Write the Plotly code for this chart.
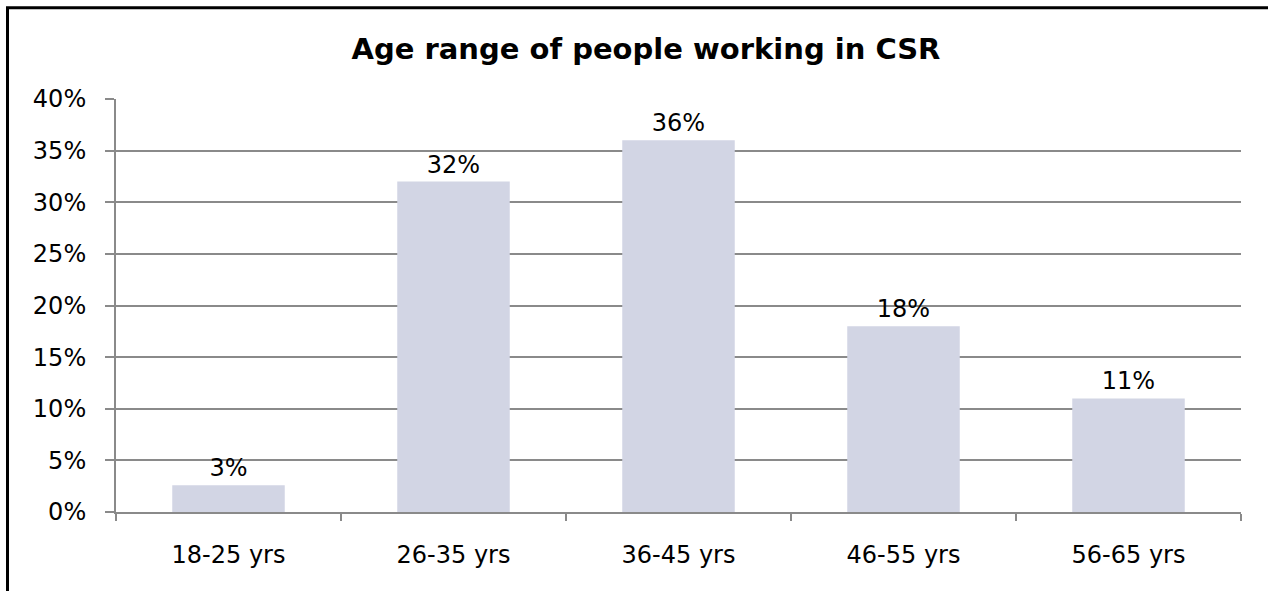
import plotly.graph_objects as go

# Survey data: share of CSR practitioners by age band
age_bands = ["18-25 yrs", "26-35 yrs", "36-45 yrs", "46-55 yrs", "56-65 yrs"]
shares = [0.026, 0.32, 0.36, 0.18, 0.11]
y_ticks = [0, 0.05, 0.10, 0.15, 0.20, 0.25, 0.30, 0.35, 0.40]

W, H = 1268, 591
ML, MR, MT, MB = 116, 27, 99, 79
plot_w = W - ML - MR
plot_h = H - MT - MB

GRID = "#8a8a8a"
BAR = "#d2d5e4"
FONT = "DejaVu Sans"
FS = 24

fig = go.Figure(
    go.Bar(
        x=age_bands,
        y=shares,
        marker=dict(color=BAR, line=dict(width=0)),
        text=shares,
        texttemplate="%{y:.0%}",
        textposition="outside",
        textfont=dict(family=FONT, size=FS, color="#000000"),
        cliponaxis=False,
        hoverinfo="skip",
    )
)

# chart frame: px -> paper helpers
def px_x(px):
    return (px - ML) / plot_w

def px_y(py):
    return (H - MB - py) / plot_h

fig.add_shape(
    type="rect",
    xref="paper", yref="paper",
    x0=px_x(7.5), x1=px_x(W + 20),
    y0=px_y(H + 20), y1=px_y(7.8),
    line=dict(color="#000000", width=3),
    fillcolor="rgba(0,0,0,0)",
    layer="above",
)

fig.update_layout(
    width=W,
    height=H,
    margin=dict(l=ML, r=MR, t=MT, b=MB, pad=0),
    paper_bgcolor="#ffffff",
    plot_bgcolor="#ffffff",
    bargap=0.5,
    showlegend=False,
    title=dict(
        text="<b>Age range of people working in CSR</b>",
        x=646 / W,
        xanchor="center",
        y=1 - 49 / H,
        yanchor="middle",
        font=dict(family=FONT, size=29, color="#000000"),
    ),
    font=dict(family=FONT, size=FS, color="#000000"),
)

fig.update_xaxes(
    type="category",
    range=[-0.5, len(age_bands) - 0.5],
    showline=True,
    linecolor=GRID,
    linewidth=2,
    ticks="outside",
    tickson="boundaries",
    ticklen=7,
    tickwidth=2,
    tickcolor=GRID,
    showgrid=False,
    tickfont=dict(family=FONT, size=FS, color="#000000"),
    ticklabelstandoff=20,
    fixedrange=True,
)

fig.update_yaxes(
    range=[0, 0.4],
    tickvals=y_ticks,
    tickformat=".0%",
    showline=True,
    linecolor=GRID,
    linewidth=2,
    ticks="outside",
    ticklen=9,
    tickwidth=2,
    tickcolor=GRID,
    showgrid=True,
    gridcolor=GRID,
    gridwidth=2,
    zeroline=False,
    tickfont=dict(family=FONT, size=FS, color="#000000"),
    ticklabelstandoff=14,
    fixedrange=True,
)

fig.write_html("out.html")
